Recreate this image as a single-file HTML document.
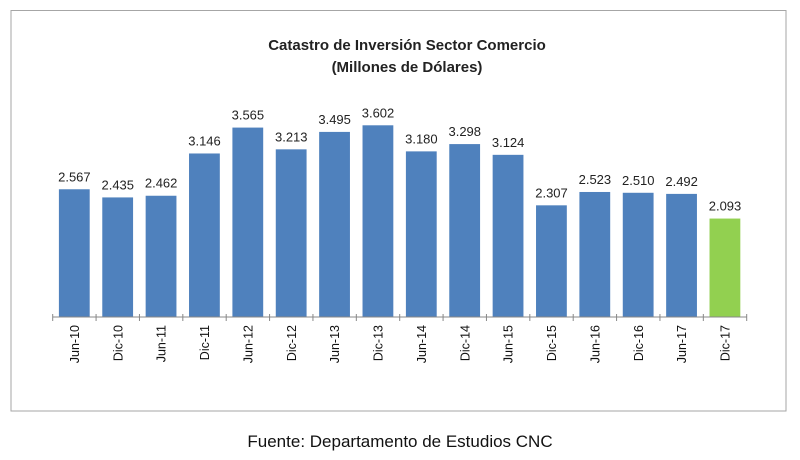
<!DOCTYPE html>
<html><head><meta charset="utf-8"><style>
body{margin:0;background:#fff;}
svg{display:block;font-family:"Liberation Sans",Arial,sans-serif;}
</style></head><body>
<svg width="800" height="460">
<rect x="11" y="10.5" width="775" height="400.5" fill="#fff" stroke="#a6a6a6" stroke-width="1"/>
<text x="407" y="50" text-anchor="middle" font-size="15" font-weight="bold" fill="#222">Catastro de Inversión Sector Comercio</text>
<text x="407" y="72" text-anchor="middle" font-size="15" font-weight="bold" fill="#222">(Millones de Dólares)</text>
<g id="plot"></g>
<text x="400" y="447" text-anchor="middle" font-size="17" fill="#111">Fuente: Departamento de Estudios CNC</text>
</svg>
<script>
const categories=["Jun-10","Dic-10","Jun-11","Dic-11","Jun-12","Dic-12","Jun-13","Dic-13","Jun-14","Dic-14","Jun-15","Dic-15","Jun-16","Dic-16","Jun-17","Dic-17"];
const values=[2567,2435,2462,3146,3565,3213,3495,3602,3180,3298,3124,2307,2523,2510,2492,2093];
const valueLabels=["2.567","2.435","2.462","3.146","3.565","3.213","3.495","3.602","3.180","3.298","3.124","2.307","2.523","2.510","2.492","2.093"];
const NS="http://www.w3.org/2000/svg";
const g=document.getElementById('plot');
const x0=52.7,x1=746.7,base=317,vmin=500,k=0.0618;
const bw=(x1-x0)/categories.length;
const xs=i=>x0+i*bw;
const ys=v=>base-(v-vmin)*k;
function mk(t,a){const e=document.createElementNS(NS,t);for(const n in a)e.setAttribute(n,a[n]);g.appendChild(e);return e;}
categories.forEach((c,i)=>{
  const v=values[i];
  const b=mk('rect',{x:xs(i)+6.2,y:ys(v),width:30.8,height:base-ys(v),fill:i===categories.length-1?'#92d050':'#4f81bd'});
  
  
  const t=mk('text',{x:xs(i)+bw/2,y:ys(v)-8,'text-anchor':'middle','font-size':'13',fill:'#222'});
  t.textContent=valueLabels[i];
  
  
  const l=mk('text',{x:0,y:0,'text-anchor':'end','font-size':'12.5',fill:'#111',transform:`translate(${xs(i)+bw/2+4.5},${base+8}) rotate(-90)`});
  l.textContent=c;
  
  
});
const ax=mk('line',{x1:x0,x2:x1,y1:base,y2:base,stroke:'#888','stroke-width':1});


for(let i=0;i<=categories.length;i++){
  const tk=mk('line',{x1:xs(i),x2:xs(i),y1:base-3,y2:base+4,stroke:'#888','stroke-width':1});
  
  
}
</script>
</body></html>
